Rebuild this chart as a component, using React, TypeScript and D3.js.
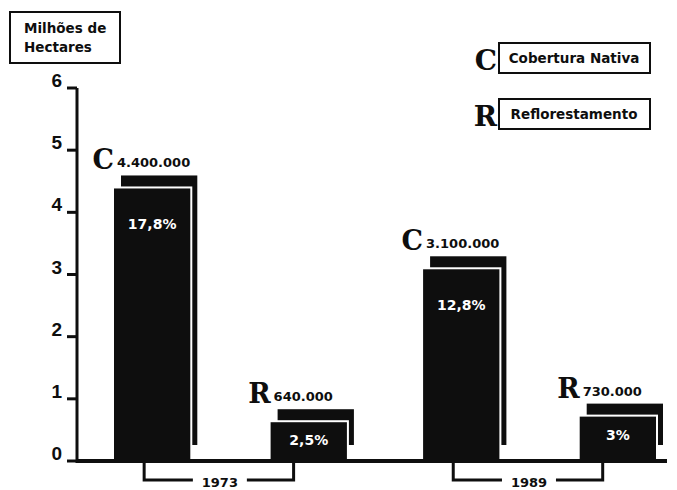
import React from 'react';
import * as d3 from 'd3';

// data
const years = ['1973', '1989'];
const seriesKeys = ['C', 'R'];
const coberturaValues = [4.4, 3.1];
const reflorestamentoValues = [0.64, 0.73];
const coberturaLabels = ['4.400.000', '3.100.000'];
const reflorestamentoLabels = ['640.000', '730.000'];
const coberturaPercent = ['17,8%', '12,8%'];
const reflorestamentoPercent = ['2,5%', '3%'];
const yTicks = [0, 1, 2, 3, 4, 5, 6];
const legendLabels = ['Cobertura Nativa', 'Reflorestamento'];

const ink = '#0e0e0e';
const sans = '"DejaVu Sans", Arial, sans-serif';
const serif = '"DejaVu Serif", "Liberation Serif", serif';

export default function App() {
  const width = 677;
  const height = 490;
  const axisX = 77;
  const baseY = 461;

  const y = d3.scaleLinear().domain([0, 6]).range([baseY, 88]);
  const x0 = d3.scaleBand().domain(years).range([113, 657]).paddingInner(0.24);
  const x1 = d3
    .scaleBand()
    .domain(seriesKeys)
    .range([0, x0.bandwidth()])
    .paddingInner(0.5);
  const bw = x1.bandwidth();

  const bars = years.flatMap((yr, i) => [
    {
      year: yr,
      key: 'C',
      value: coberturaValues[i],
      label: coberturaLabels[i],
      pct: coberturaPercent[i],
      x: (x0(yr) as number) + (x1('C') as number),
    },
    {
      year: yr,
      key: 'R',
      value: reflorestamentoValues[i],
      label: reflorestamentoLabels[i],
      pct: reflorestamentoPercent[i],
      x: (x0(yr) as number) + (x1('R') as number),
    },
  ]);

  return (
    <div style={{ position: 'absolute', left: 0, top: 0 }}>
      <svg width={width} height={height} style={{ display: 'block', background: '#fff' }}>
        {/* y title box */}
        <rect x={10} y={12} width={110} height={51} fill="none" stroke={ink} strokeWidth={2} />
        <text x={24} y={33} fontFamily={sans} fontWeight="bold" fontSize={13.5} fill={ink}>
          Milhões de
        </text>
        <text x={24} y={52} fontFamily={sans} fontWeight="bold" fontSize={13.5} fill={ink}>
          Hectares
        </text>

        {/* legend */}
        {legendLabels.map((l, i) => (
          <g key={l} transform={`translate(0,${i * 56})`}>
            <text x={497} y={70} textAnchor="end" fontFamily={serif} fontWeight="bold" fontSize={28} fill={ink}>
              {seriesKeys[i]}
            </text>
            <rect x={499} y={43} width={151} height={30} fill="none" stroke={ink} strokeWidth={2} />
            <text x={574} y={63} textAnchor="middle" fontFamily={sans} fontWeight="bold" fontSize={13.5} fill={ink}>
              {l}
            </text>
          </g>
        ))}

        {/* bars */}
        {bars.map((b) => {
          const top = y(b.value);
          return (
            <g key={b.year + b.key}>
              <rect x={b.x + 8} y={top - 12} width={bw - 2} height={baseY - 16 - (top - 12)} fill={ink} />
              <rect x={b.x} y={top} width={bw} height={baseY - top} fill={ink} stroke="#fff" strokeWidth={2} />
              <text
                x={b.x + bw / 2}
                y={top + (b.key === 'C' ? 42 : 24)}
                textAnchor="middle"
                fontFamily={sans}
                fontWeight="bold"
                fontSize={14}
                fill="#fff"
              >
                {b.pct}
              </text>
              <text x={b.x + 1} y={top - 18} textAnchor="end" fontFamily={serif} fontWeight="bold" fontSize={27} fill={ink}>
                {b.key}
              </text>
              <text x={b.x + 4} y={top - 20} fontFamily={sans} fontWeight="bold" fontSize={13} fill={ink}>
                {b.label}
              </text>
            </g>
          );
        })}

        {/* y axis */}
        <line x1={axisX} x2={axisX} y1={y(6)} y2={baseY + 2} stroke={ink} strokeWidth={3} />
        {yTicks.map((t) => (
          <g key={t}>
            <line x1={67} x2={axisX} y1={y(t)} y2={y(t)} stroke={ink} strokeWidth={3} />
            <text
              x={62}
              y={y(t) - 1}
              textAnchor="end"
              fontFamily='"Liberation Sans", Arial, sans-serif'
              fontWeight="bold"
              fontSize={19}
              fill={ink}
            >
              {t}
            </text>
          </g>
        ))}

        {/* baseline */}
        <line x1={axisX - 1} x2={667} y1={baseY} y2={baseY} stroke={ink} strokeWidth={4} />

        {/* year brackets */}
        {years.map((yr) => {
          const left = (x0(yr) as number) + (x1('C') as number) + bw / 2 - 8;
          const right = (x0(yr) as number) + (x1('R') as number) + 24;
          const mid = (left + right) / 2;
          const by = 480;
          return (
            <g key={yr} fill="none" stroke={ink} strokeWidth={3}>
              <path d={`M${left},${baseY}V${by}H${mid - 26}`} />
              <path d={`M${mid + 28},${by}H${right}V${baseY}`} />
              <text
                x={mid + 1}
                y={487}
                textAnchor="middle"
                fontFamily={sans}
                fontWeight="bold"
                fontSize={13}
                fill={ink}
                stroke="none"
              >
                {yr}
              </text>
            </g>
          );
        })}
      </svg>
    </div>
  );
}
